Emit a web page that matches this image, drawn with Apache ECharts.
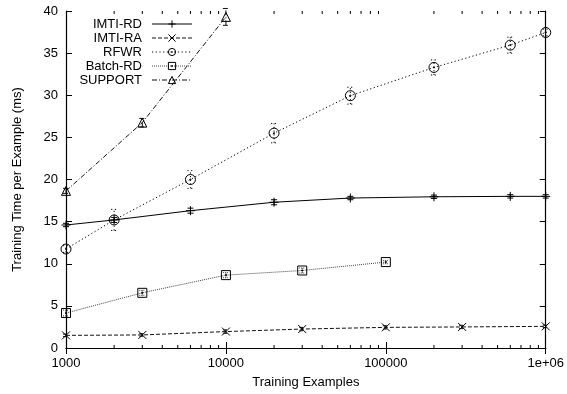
<!DOCTYPE html>
<html><head><meta charset="utf-8">
<script src="https://cdn.jsdelivr.net/npm/echarts@6/dist/echarts.min.js"></script>
<style>html,body{margin:0;padding:0;background:#fff}#c{width:567px;height:394px}</style>
</head><body><div id="c"></div>
<script>
// ---- data ----
const imtiRdX = [1000, 2000, 6000, 20000, 60000, 200000, 600000, 1000000];
const imtiRdY = [14.6, 15.2, 16.3, 17.3, 17.8, 17.95, 18.0, 18.0];
const imtiRdErr = [0.2, 0.3, 0.3, 0.3, 0.2, 0.2, 0.2, 0.2];

const imtiRaX = [1000, 3000, 10000, 30000, 100000, 300000, 1000000];
const imtiRaY = [1.5, 1.55, 1.95, 2.25, 2.45, 2.5, 2.57];
const imtiRaErr = [0.15, 0.15, 0.2, 0.2, 0.2, 0.2, 0.15];

const rfwrX = [1000, 2000, 6000, 20000, 60000, 200000, 600000, 1000000];
const rfwrY = [11.75, 15.2, 20.0, 25.5, 29.95, 33.3, 35.95, 37.45];
const rfwrErr = [0.4, 1.25, 1.05, 1.15, 1.0, 0.9, 0.95, 0.4];

const batchX = [1000, 3000, 10000, 30000, 100000];
const batchY = [4.15, 6.55, 8.65, 9.2, 10.2];
const batchErr = [0.35, 0.3, 0.3, 0.3, 0.2];

const supportX = [1000, 3000, 10000];
const supportY = [18.65, 26.75, 39.3];
const supportErr = [0.3, 0.5, 1.0];

const seriesNames = ['IMTI-RD', 'IMTI-RA', 'RFWR', 'Batch-RD', 'SUPPORT'];
const yTickLabels = [0, 5, 10, 15, 20, 25, 30, 35, 40];
const xTickLabels = {1000: '1000', 10000: '10000', 100000: '100000', 1000000: '1e+06'};
const minorXTicks = [2000,3000,4000,5000,6000,7000,8000,9000,
  20000,30000,40000,50000,60000,70000,80000,90000,
  200000,300000,400000,500000,600000,700000,800000,900000];

// ---- styling ----
const FONT = 'Liberation Sans';
const defs = [
  {name: seriesNames[0], xs: imtiRdX, ys: imtiRdY, err: imtiRdErr, color: '#000', dash: 'solid',
   symbol: 'path://M0,5L10,5M5,0L5,10', size: 9},
  {name: seriesNames[1], xs: imtiRaX, ys: imtiRaY, err: imtiRaErr, color: '#111', dash: [4, 2],
   symbol: 'path://M0,0L10,10M10,0L0,10', size: 8},
  {name: seriesNames[2], xs: rfwrX, ys: rfwrY, err: rfwrErr, color: '#000', dash: [1.2, 2.5],
   symbol: 'path://M10,5A5,5,0,1,1,0,5A5,5,0,1,1,10,5ZM5.6,5A0.6,0.6,0,1,1,4.4,5A0.6,0.6,0,1,1,5.6,5Z', size: 10},
  {name: seriesNames[3], xs: batchX, ys: batchY, err: batchErr, color: '#444', dash: [1, 1],
   symbol: 'path://M0,0L10,0L10,10L0,10ZM4.4,4.4L5.6,4.4L5.6,5.6L4.4,5.6Z', size: 9},
  {name: seriesNames[4], xs: supportX, ys: supportY, err: supportErr, color: '#111', dash: [5, 2, 1, 2],
   symbol: 'path://M5,0L10,9L0,9Z', size: 9}
];

const series = [];
defs.forEach(d => {
  series.push({
    name: d.name, type: 'line', xAxisIndex: 0, yAxisIndex: 0,
    data: d.xs.map((x, i) => [x, d.ys[i]]),
    symbol: d.symbol, symbolSize: d.size, showSymbol: true,
    lineStyle: {color: d.color, width: 1, type: d.dash},
    itemStyle: {color: 'rgba(255,255,255,0)', borderColor: '#000', borderWidth: 1},
    z: 3
  });
  series.push({
    name: d.name + '-err', type: 'custom', xAxisIndex: 0, yAxisIndex: 0,
    data: d.xs.map((x, i) => [x, d.ys[i] - d.err[i], d.ys[i] + d.err[i]]),
    encode: {x: 0, y: [1, 2]},
    renderItem: function (params, api) {
      const x = api.value(0);
      const p1 = api.coord([x, api.value(1)]);
      const p2 = api.coord([x, api.value(2)]);
      const st = {stroke: d.color, lineWidth: 1, lineDash: Array.isArray(d.dash) ? d.dash : null};
      const c = 3;
      return {type: 'group', children: [
        {type: 'line', shape: {x1: p1[0], y1: p1[1], x2: p2[0], y2: p2[1]}, style: st},
        {type: 'line', shape: {x1: p1[0] - c, y1: p1[1], x2: p1[0] + c, y2: p1[1]}, style: st},
        {type: 'line', shape: {x1: p2[0] - c, y1: p2[1], x2: p2[0] + c, y2: p2[1]}, style: st}
      ]};
    },
    z: 2, silent: true
  });
});

// minor log ticks on bottom and top
series.push({
  name: 'minor-ticks', type: 'custom', xAxisIndex: 0, yAxisIndex: 0,
  data: minorXTicks.map(v => [v, 0]),
  encode: {x: 0, y: 1},
  renderItem: function (params, api) {
    const v = api.value(0);
    const b = api.coord([v, 0]);
    const t = api.coord([v, 40]);
    const st = {stroke: '#000', lineWidth: 1};
    return {type: 'group', children: [
      {type: 'line', shape: {x1: b[0], y1: b[1], x2: b[0], y2: b[1] - 3}, style: st},
      {type: 'line', shape: {x1: t[0], y1: t[1], x2: t[0], y2: t[1] + 3}, style: st}
    ]};
  },
  silent: true, z: 1
});

const axisLine = {show: true, lineStyle: {color: '#000', width: 1.2}};
const option = {
  animation: false,
  backgroundColor: '#fff',
  grid: {left: 66, right: 21, top: 11, bottom: 46},
  legend: {
    orient: 'vertical', left: 71, top: 12, itemWidth: 40, itemHeight: 9, itemGap: 0,
    align: 'right', data: seriesNames, selectedMode: false,
    itemStyle: {borderWidth: 1},
    lineStyle: {width: 1},
    textStyle: {fontFamily: FONT, fontSize: 13, lineHeight: 14, color: '#000', width: 66, align: 'right', padding: [0, 5, 0, 0]}
  },
  xAxis: [{
    type: 'log', logBase: 10, min: 1000, max: 1000000, position: 'bottom',
    name: 'Training Examples', nameLocation: 'middle', nameGap: 28,
    nameTextStyle: {fontFamily: FONT, fontSize: 13, color: '#000'},
    axisLine: axisLine,
    axisTick: {show: true, inside: true, length: 6, lineStyle: {color: '#000'}},
    axisLabel: {fontFamily: FONT, fontSize: 13, color: '#000', margin: 9,
      formatter: v => xTickLabels[Math.round(v)] || ''},
    splitLine: {show: false}, minorTick: {show: false}
  }, {
    type: 'log', logBase: 10, min: 1000, max: 1000000, position: 'top',
    axisLine: axisLine,
    axisTick: {show: true, inside: true, length: 6, lineStyle: {color: '#000'}},
    axisLabel: {show: false}, splitLine: {show: false}
  }],
  yAxis: [{
    type: 'value', min: yTickLabels[0], max: yTickLabels[yTickLabels.length - 1], interval: 5,
    name: 'Training Time per Example (ms)', nameLocation: 'middle', nameGap: 42,
    nameTextStyle: {fontFamily: FONT, fontSize: 13, color: '#000'},
    axisLine: axisLine,
    axisTick: {show: true, inside: true, length: 6, lineStyle: {color: '#000'}},
    axisLabel: {fontFamily: FONT, fontSize: 13, color: '#000', margin: 8},
    splitLine: {show: false}
  }, {
    type: 'value', min: 0, max: 40, interval: 5, position: 'right',
    axisLine: axisLine,
    axisTick: {show: true, inside: true, length: 6, lineStyle: {color: '#000'}},
    axisLabel: {show: false}, splitLine: {show: false}
  }],
  series: series
};
const chart = echarts.init(document.getElementById('c'), null, {renderer: 'canvas'});
chart.setOption(option);
</script></body></html>
